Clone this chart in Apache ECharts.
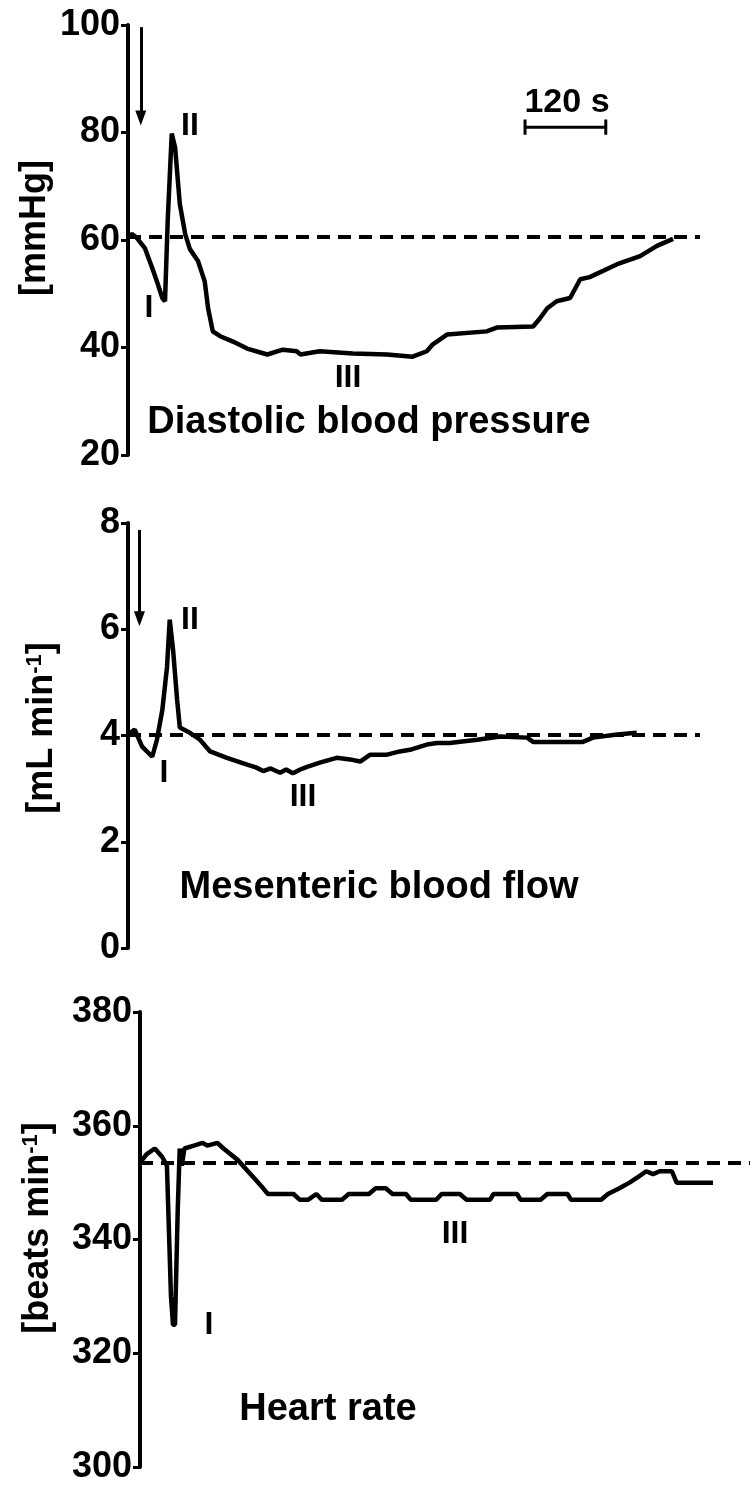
<!DOCTYPE html>
<html>
<head>
<meta charset="utf-8">
<script src="https://cdn.jsdelivr.net/npm/echarts@6/dist/echarts.min.js"></script>
<style>
  html, body { margin: 0; padding: 0; background: #fff; }
  #chart { width: 750px; height: 1485px; }
</style>
</head>
<body>
<div id="chart"></div>
<script>
// 舒张压 (diastolic blood pressure), time in s
const dbpTime = [0, 6, 13, 25, 36, 43, 51, 55, 59, 65, 70, 77, 85, 92, 104, 114, 119, 126, 137, 156, 177, 207, 230, 251, 256, 285, 334, 385, 423, 444, 453, 474, 533, 548, 602, 612, 623, 637, 657, 672, 686, 727, 761, 786, 810];
const dbpValues = [60.6, 61.1, 60.4, 58.5, 54.8, 52.3, 49.2, 48.6, 63.6, 79.8, 77.2, 66.7, 61.1, 58.3, 56.1, 52.3, 47.3, 43.0, 42.1, 41.1, 39.8, 38.7, 39.6, 39.3, 38.7, 39.3, 38.9, 38.7, 38.3, 39.3, 40.6, 42.4, 43.0, 43.7, 43.9, 45.4, 47.3, 48.6, 49.2, 52.7, 53.1, 55.5, 57.0, 58.9, 60.2];
const dbpBaseline = 60.6;
const dbpTicks = [20, 100, 20]; // min, max, interval

// mesenteric blood flow
const mbfTime = [0, 10, 21, 36, 43, 51, 58, 62, 67, 73, 77, 92, 107, 122, 147, 177, 190, 201, 212, 226, 235, 245, 256, 266, 285, 310, 330, 345, 360, 385, 404, 419, 444, 459, 478, 519, 553, 593, 602, 676, 691, 727, 756];
const mbfValues = [4.02, 4.11, 3.79, 3.60, 3.92, 4.48, 5.29, 6.18, 5.61, 4.67, 4.15, 4.05, 3.92, 3.70, 3.58, 3.45, 3.40, 3.33, 3.38, 3.30, 3.36, 3.29, 3.36, 3.41, 3.49, 3.58, 3.55, 3.51, 3.64, 3.64, 3.70, 3.73, 3.83, 3.86, 3.86, 3.92, 3.98, 3.96, 3.88, 3.88, 3.96, 4.02, 4.05];
const mbfBaseline = 4.02;
const mbfTicks = [0, 8, 2];

// heart rate
const hrTime = [0, 10, 22, 33, 40, 46, 49, 52, 56, 59, 62, 66, 80, 93, 100, 115, 124, 145, 164, 183, 190, 228, 237, 250, 262, 270, 300, 310, 340, 350, 365, 375, 395, 402, 440, 448, 475, 485, 520, 525, 560, 565, 595, 605, 635, 640, 685, 695, 712, 727, 740, 752, 762, 772, 790, 797, 851];
const hrValues = [353.5, 355, 356, 354.5, 353, 330, 325, 325, 345, 356, 353, 356, 356.5, 357, 356.5, 357, 356, 354, 351.5, 349, 348, 348, 347, 347, 348, 347, 347, 348, 348, 349, 349, 348, 348, 347, 347, 348, 348, 347, 347, 348, 348, 347, 347, 348, 348, 347, 347, 348, 349, 350, 351, 352, 351.5, 352, 352, 350, 350];
const hrBaseline = 353.5;
const hrTicks = [300, 380, 20];

// 给药箭头 [time, from, to]
const arrowDbp = [19, 99.6, 82.7];
const arrowMbf = [17, 7.87, 6.2];
const arrowHr = [16, 381.2, 364.5];

// 120 s scale bar
const scaleBarTimes = [590, 710];
const scaleBarLevel = 81;

const FONT = '"Liberation Sans", Arial, sans-serif';

function pairs(xs, ys) {
    return xs.map(function (x, i) { return [x, ys[i]]; });
}

function yAxisFor(gridIndex, ticks) {
    return {
        gridIndex: gridIndex,
        type: 'value',
        min: ticks[0],
        max: ticks[1],
        interval: ticks[2],
        axisLine: { show: true, lineStyle: { color: '#000', width: 4 } },
        axisTick: { show: true, length: 7, lineStyle: { color: '#000', width: 3 } },
        axisLabel: { color: '#000', fontSize: 36, fontWeight: 'bold', fontFamily: FONT, margin: 8 },
        splitLine: { show: false }
    };
}

function traceSeries(idx, data, baseline, arrow) {
    return {
        type: 'line',
        xAxisIndex: idx,
        yAxisIndex: idx,
        data: data,
        symbol: 'none',
        clip: false,
        lineStyle: { color: '#000', width: 4.5 },
        markLine: {
            silent: true,
            symbol: ['none', 'none'],
            label: { show: false },
            data: [
                { yAxis: baseline, lineStyle: { color: '#000', width: 4, type: [13, 8] } },
                [
                    { coord: [arrow[0], arrow[1]], symbol: 'none' },
                    { coord: [arrow[0], arrow[2]], symbol: 'triangle', symbolSize: [11, 15], lineStyle: { color: '#000', width: 3, type: 'solid' } }
                ]
            ]
        }
    };
}

function label(text, x, y, size, extra) {
    return Object.assign({
        type: 'text',
        x: x,
        y: y,
        style: {
            text: text,
            fill: '#000',
            fontSize: size,
            fontWeight: 'bold',
            fontFamily: FONT,
            align: 'center',
            verticalAlign: 'middle'
        }
    }, extra || {});
}

function yName(text, x, y) {
    let g = label(text, x, y, 36, { rotation: Math.PI / 2 });
    g.style.rich = {
        sup: { fontSize: 22, fontWeight: 'bold', fontFamily: FONT, fill: '#000', verticalAlign: 'top', padding: [0, 0, 14, 0] }
    };
    return g;
}

let myChart = echarts.init(document.getElementById('chart'));
let option = {
    animation: false,
    backgroundColor: '#fff',
    grid: [
        { left: 128, top: 25, width: 572, height: 430 },
        { left: 128, top: 523, width: 572, height: 425 },
        { left: 140, top: 1012, width: 610, height: 460 }
    ],
    xAxis: [
        { gridIndex: 0, type: 'value', min: 0, max: 850, show: false },
        { gridIndex: 1, type: 'value', min: 0, max: 850, show: false },
        { gridIndex: 2, type: 'value', min: 0, max: 906, show: false }
    ],
    yAxis: [
        yAxisFor(0, dbpTicks),
        yAxisFor(1, mbfTicks),
        yAxisFor(2, hrTicks)
    ],
    series: [
        traceSeries(0, pairs(dbpTime, dbpValues), dbpBaseline, arrowDbp),
        traceSeries(1, pairs(mbfTime, mbfValues), mbfBaseline, arrowMbf),
        traceSeries(2, pairs(hrTime, hrValues), hrBaseline, arrowHr),
        {
            // 比例尺
            type: 'line',
            xAxisIndex: 0,
            yAxisIndex: 0,
            symbol: 'none',
            lineStyle: { color: '#000', width: 3 },
            data: [
                [scaleBarTimes[0], scaleBarLevel + 1.4],
                [scaleBarTimes[0], scaleBarLevel - 1.4],
                [scaleBarTimes[0], scaleBarLevel],
                [scaleBarTimes[1], scaleBarLevel],
                [scaleBarTimes[1], scaleBarLevel + 1.4],
                [scaleBarTimes[1], scaleBarLevel - 1.4]
            ]
        }
    ],
    graphic: [
        yName('[mmHg]', 35, 228),
        label('II', 190, 126, 32),
        label('I', 149, 308, 32),
        label('III', 348, 378, 32),
        label('120 s', 567, 103, 34),
        label('Diastolic blood pressure', 369, 423, 38),

        yName('[mL min{sup|-1}]', 42, 728),
        label('II', 190, 620, 32),
        label('I', 164, 773, 32),
        label('III', 303, 797, 32),
        label('Mesenteric blood flow', 379, 888, 38),

        yName('[beats min{sup|-1}]', 38, 1228),
        label('I', 209, 1325, 32),
        label('III', 455, 1234, 32),
        label('Heart rate', 328, 1410, 38)
    ]
};
myChart.setOption(option);
window.addEventListener('resize', function () {
    myChart.resize();
});
</script>
</body>
</html>
